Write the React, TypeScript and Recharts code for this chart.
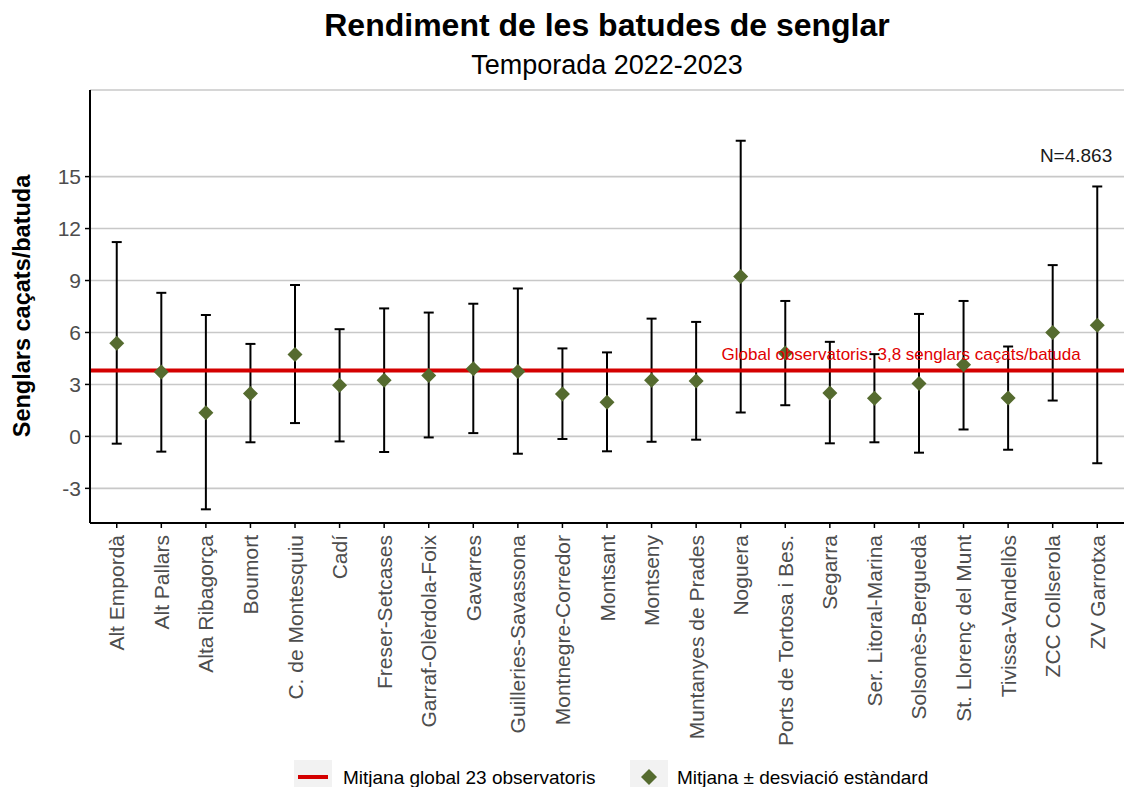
import React from "react";
import {
  ComposedChart,
  Scatter,
  ErrorBar,
  XAxis,
  YAxis,
  CartesianGrid,
  ReferenceLine,
  ReferenceDot,
} from "recharts";

const categories = [
  "Alt Empordà",
  "Alt Pallars",
  "Alta Ribagorça",
  "Boumort",
  "C. de Montesquiu",
  "Cadí",
  "Freser-Setcases",
  "Garraf-Olèrdola-Foix",
  "Gavarres",
  "Guilleries-Savassona",
  "Montnegre-Corredor",
  "Montsant",
  "Montseny",
  "Muntanyes de Prades",
  "Noguera",
  "Ports de Tortosa i Bes.",
  "Segarra",
  "Ser. Litoral-Marina",
  "Solsonès-Berguedà",
  "St. Llorenç del Munt",
  "Tivissa-Vandellòs",
  "ZCC Collserola",
  "ZV Garrotxa",
];

const means = [5.38, 3.72, 1.36, 2.47, 4.73, 2.95, 3.24, 3.51, 3.91, 3.75, 2.45, 1.97, 3.24, 3.2, 9.23, 4.81, 2.51, 2.2, 3.05, 4.14, 2.22, 6.0, 6.42];
const lowerValues = [-0.42, -0.88, -4.21, -0.34, 0.77, -0.29, -0.9, -0.06, 0.19, -1.0, -0.15, -0.86, -0.31, -0.19, 1.38, 1.8, -0.4, -0.34, -0.94, 0.4, -0.77, 2.07, -1.55];
const upperValues = [11.22, 8.29, 7.01, 5.34, 8.74, 6.19, 7.39, 7.15, 7.66, 8.54, 5.08, 4.85, 6.8, 6.61, 17.07, 7.82, 5.46, 4.75, 7.07, 7.82, 5.19, 9.89, 14.43];

const globalMean = 3.8;
const yTicks = [-3, 0, 3, 6, 9, 12, 15];
const yDomain = [-5, 20];
const nLabel = "N=4.863";
const nLabelPos = { x: 22, y: 16.2 };
const globalLabel = "Global observatoris: 3,8 senglars caçats/batuda";
const globalLabelPos = { x: 17.6, y: 4.72 };

const data = categories.map((name, i) => ({
  idx: i,
  name,
  mean: means[i],
  err: [means[i] - lowerValues[i], upperValues[i] - means[i]],
}));

const FONT = "'Liberation Sans', Arial, Helvetica, sans-serif";
const GREEN = "#556B2F";
const RED = "#d40000";

const Diamond = (props: any) => {
  const { cx, cy } = props;
  const r = 7.5;
  return (
    <polygon
      points={`${cx},${cy - r} ${cx + r},${cy} ${cx},${cy + r} ${cx - r},${cy}`}
      fill={GREEN}
    />
  );
};

const XTick = (props: any) => {
  const { x, y, payload } = props;
  return (
    <text
      transform={`translate(${x},${y + 5}) rotate(-90)`}
      textAnchor="end"
      dominantBaseline="central"
      fill="#4d4d4d"
      fontSize={21}
      fontFamily={FONT}
    >
      {categories[payload.value]}
    </text>
  );
};

const YTick = (props: any) => {
  const { x, y, payload } = props;
  return (
    <text
      x={x}
      y={y}
      textAnchor="end"
      dominantBaseline="central"
      fill="#4d4d4d"
      fontSize={21}
      fontFamily={FONT}
    >
      {payload.value}
    </text>
  );
};

export default function App() {
  return (
    <div style={{ position: "absolute", left: 0, top: 0, width: 1124, height: 787, background: "#fff", overflow: "hidden" }}>
      <ComposedChart
        width={1124}
        height={787}
        data={data}
        margin={{ top: 90, right: 0, bottom: 0, left: 0 }}
      >
        <CartesianGrid vertical={false} stroke="#c8c8c8" strokeWidth={1.6} />
        <XAxis
          type="number"
          dataKey="idx"
          domain={[-0.6, 22.6]}
          ticks={categories.map((_, i) => i)}
          interval={0}
          height={264}
          tick={<XTick />}
          tickSize={5}
          tickMargin={2}
          axisLine={{ stroke: "#000", strokeWidth: 2 }}
          tickLine={{ stroke: "#000", strokeWidth: 1.5 }}
          allowDataOverflow
        />
        <YAxis
          type="number"
          domain={yDomain}
          ticks={yTicks}
          interval={0}
          width={90}
          tick={<YTick />}
          tickSize={5}
          tickMargin={4}
          axisLine={{ stroke: "#000", strokeWidth: 2 }}
          tickLine={{ stroke: "#000", strokeWidth: 1.5 }}
          allowDataOverflow
        />
        <Scatter dataKey="mean" shape={<Diamond />} isAnimationActive={false}>
          <ErrorBar dataKey="err" direction="y" width={5} stroke="#000" strokeWidth={2} />
        </Scatter>
        <ReferenceLine y={globalMean} stroke={RED} strokeWidth={4} />
        <ReferenceDot
          x={globalLabelPos.x}
          y={globalLabelPos.y}
          r={0}
          fill="none"
          stroke="none"
          label={{
            content: (p: any) => {
              const vb = p.viewBox || {};
              return (
                <text
                  x={vb.x + (vb.width || 0) / 2}
                  y={vb.y + (vb.height || 0) / 2}
                  textAnchor="middle"
                  dominantBaseline="central"
                  fill="#e00000"
                  fontSize={17}
                  fontFamily={FONT}
                >
                  {globalLabel}
                </text>
              );
            },
          }}
        />
        <ReferenceDot
          x={nLabelPos.x}
          y={nLabelPos.y}
          r={0}
          fill="none"
          stroke="none"
          label={{
            content: (p: any) => {
              const vb = p.viewBox || {};
              return (
                <text
                  x={vb.x + (vb.width || 0) / 2 + 15}
                  y={vb.y + (vb.height || 0) / 2}
                  textAnchor="end"
                  dominantBaseline="central"
                  fill="#1a1a1a"
                  fontSize={19}
                  fontFamily={FONT}
                >
                  {nLabel}
                </text>
              );
            },
          }}
        />
      </ComposedChart>
      <svg
        width={1124}
        height={787}
        style={{ position: "absolute", left: 0, top: 0, pointerEvents: "none" }}
      >
        <text x={607} y={36} textAnchor="middle" fontSize={32} fontWeight="bold" fontFamily={FONT} fill="#000">
          Rendiment de les batudes de senglar
        </text>
        <text x={607} y={74} textAnchor="middle" fontSize={27} fontFamily={FONT} fill="#000">
          Temporada 2022-2023
        </text>
        <text
          transform="translate(22,306) rotate(-90)"
          textAnchor="middle"
          dominantBaseline="central"
          fontSize={23.5}
          fontWeight="bold"
          fontFamily={FONT}
          fill="#000"
        >
          Senglars caçats/batuda
        </text>
        <rect x={294} y={760} width={38} height={34} fill="#f2f2f2" />
        <line x1={298} x2={328} y1={777} y2={777} stroke={RED} strokeWidth={4} />
        <text x={343} y={777} dominantBaseline="central" fontSize={19} fontFamily={FONT} fill="#000">
          Mitjana global 23 observatoris
        </text>
        <rect x={630} y={760} width={38} height={34} fill="#f2f2f2" />
        <polygon points="649,769 657,777 649,785 641,777" fill={GREEN} />
        <text x={677} y={777} dominantBaseline="central" fontSize={19} fontFamily={FONT} fill="#000">
          Mitjana ± desviació estàndard
        </text>
      </svg>
    </div>
  );
}
